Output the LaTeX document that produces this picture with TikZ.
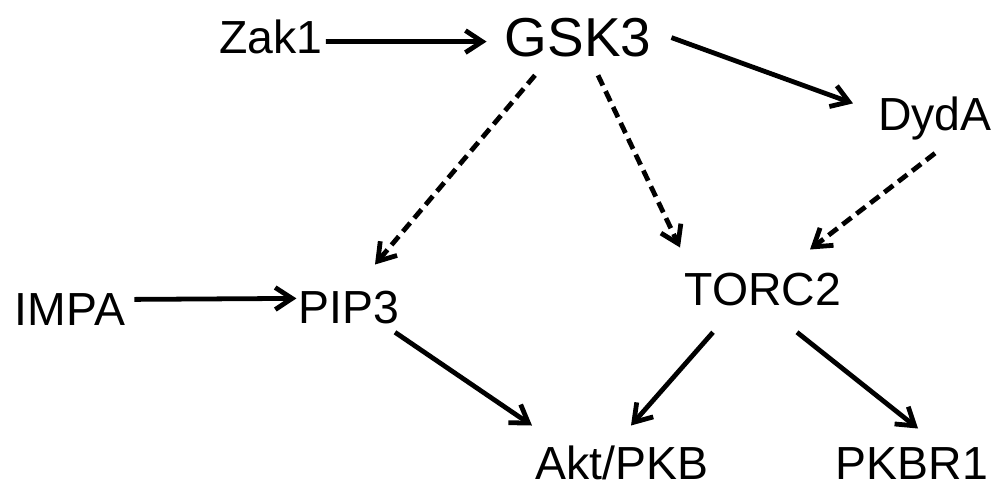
\documentclass[tikz,border=0pt]{standalone}
\usepackage{fontspec}
\setmainfont{Liberation Sans}
\usetikzlibrary{arrows.meta}

\begin{document}
\begin{tikzpicture}[x=0.025cm,y=-0.025cm,
  gene/.style={inner sep=0pt,anchor=base,text height=0.83cm,text depth=0pt,font=\fontsize{33}{33}\selectfont},
  biggene/.style={gene,text height=1.02cm,font=\fontsize{39}{39}\selectfont},
  act/.style={line width=3.4pt,-{Straight Barb[length=0.42cm,width=0.55cm]}},
  maybe/.style={act,dash pattern=on 8pt off 4.5pt}]
\useasboundingbox (0,0) rectangle (995,487);
% proteins
\node[gene] (zak) at (271,53) {Zak1};
\node[biggene] (gsk) at (578,56) {GSK3};
\node[gene] (dyda) at (935,130) {DydA};
\node[gene] (impa) at (70,325) {IMPA};
\node[gene] (pip) at (349,323) {PIP3};
\node[gene] (torc) at (763,305) {TORC2};
\node[gene] (akt) at (622,479) {Akt/PKB};
\node[gene] (pkbr) at (912,479) {PKBR1};
% solid arrows
\draw[act] ([shift={(3,5)}]zak.east) -- ([shift={(-18,6)}]gsk.west);
\draw[act] ([shift={(20,2)}]gsk.east) -- ([shift={(-25,-10)}]dyda.west);
\draw[act] ([shift={(9,-9)}]impa.east) -- ([shift={(-2,-8)}]pip.west);
\draw[act] ([shift={(46,9)}]pip.south) -- ([shift={(-90,-20)}]akt.north);
\draw[act] ([shift={(-50,27)}]torc.south) -- ([shift={(9,-20)}]akt.north);
\draw[act] ([shift={(34,27)}]torc.south) -- ([shift={(6,-17)}]pkbr.north);
% dashed arrows
\draw[maybe] ([shift={(-43,19)}]gsk.south) -- ([shift={(26,-25)}]pip.north);
\draw[maybe] ([shift={(20,19)}]gsk.south) -- ([shift={(-83,-24)}]torc.north);
\draw[maybe] ([shift={(0,23)}]dyda.south) -- ([shift={(47,-22)}]torc.north);
\end{tikzpicture}
\end{document}
